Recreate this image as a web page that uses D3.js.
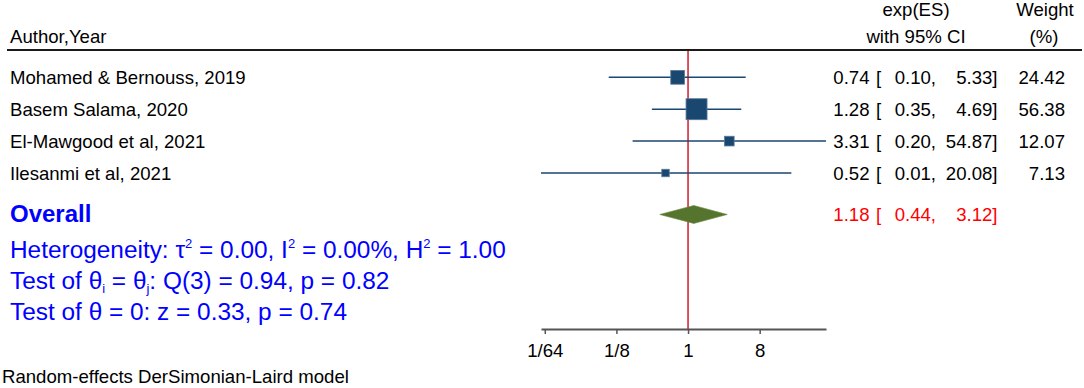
<!DOCTYPE html>
<html>
<head>
<meta charset="utf-8">
<script src="https://cdn.jsdelivr.net/npm/d3@7"></script>
<style>
  html, body { margin: 0; padding: 0; background: #fff; }
  svg { display: block; }
  text { font-family: "Liberation Sans", Arial, sans-serif; }
</style>
</head>
<body>
<svg id="chart" width="1084" height="388"></svg>
<script>
// ---- data ----
const studies = ["Mohamed & Bernouss, 2019", "Basem Salama, 2020", "El-Mawgood et al, 2021", "Ilesanmi et al, 2021"];
const esValues = [0.74, 1.28, 3.31, 0.52];
const ciLower = [0.10, 0.35, 0.20, 0.014];
const ciUpper = [5.33, 4.69, 54.87, 20.08];
const weights = [24.42, 56.38, 12.07, 7.13];
const overallES = [1.18];
const overallLower = [0.44];
const overallUpper = [3.12];
const tickValues = [1/64, 1/8, 1, 8];
const tickLabels = ["1/64", "1/8", "1", "8"];

// ---- drawing ----
const svg = d3.select("#chart");
const navy = "#1a476f";
const fmt = d3.format(".2f");
const fs = 18.6;
const fsBig = 24.4;

const x = d3.scaleLog().base(2)
  .domain([d3.min(ciLower), d3.max(ciUpper)])
  .range([541, 826]);
const y = d3.scaleLinear().domain([0, 1]).range([77.3, 109.2]);
const size = d3.scaleSqrt().domain([0, d3.max(weights)]).range([0, 21]);
const overallRow = 4.3;
const axisY = 329;

// header
svg.append("text").attr("x", 10).attr("y", 43).attr("font-size", fs).text("Author,Year");
svg.append("text").attr("x", 916).attr("y", 16).attr("font-size", fs).attr("text-anchor", "middle").text("exp(ES)");
svg.append("text").attr("x", 916).attr("y", 43).attr("font-size", fs).attr("text-anchor", "middle").text("with 95% CI");
svg.append("text").attr("x", 1045).attr("y", 16).attr("font-size", fs).attr("text-anchor", "middle").text("Weight");
svg.append("text").attr("x", 1044).attr("y", 43).attr("font-size", fs).attr("text-anchor", "middle").text("(%)");
svg.append("line").attr("x1", 7).attr("x2", 1082).attr("y1", 50).attr("y2", 50)
  .attr("stroke", "#1a1a1a").attr("stroke-width", 2);

// reference line at 1
svg.append("line").attr("x1", x(1)).attr("x2", x(1)).attr("y1", 51).attr("y2", axisY)
  .attr("stroke", "#d42a3c").attr("stroke-width", 1.6);

// study rows
const rows = studies.map((s, i) => ({ s, es: esValues[i], lo: ciLower[i], hi: ciUpper[i], w: weights[i], i }));
const g = svg.append("g");
g.selectAll("line.ci").data(rows).join("line")
  .attr("class", "ci")
  .attr("x1", d => x(d.lo)).attr("x2", d => x(d.hi))
  .attr("y1", d => y(d.i)).attr("y2", d => y(d.i))
  .attr("stroke", navy).attr("stroke-width", 1.5);
g.selectAll("rect.box").data(rows).join("rect")
  .attr("class", "box")
  .attr("x", d => x(d.es) - size(d.w) / 2)
  .attr("y", d => y(d.i) - size(d.w) / 2)
  .attr("width", d => size(d.w)).attr("height", d => size(d.w))
  .attr("fill", navy).attr("stroke", "#5b7a99").attr("stroke-width", 0.8);

// labels
g.selectAll("text.lab").data(rows).join("text")
  .attr("class", "lab").attr("x", 10).attr("y", d => y(d.i) + 7)
  .attr("font-size", fs).text(d => d.s);
g.selectAll("text.es").data(rows).join("text")
  .attr("x", 869.5).attr("y", d => y(d.i) + 7).attr("text-anchor", "end")
  .attr("font-size", fs).text(d => fmt(d.es));
g.selectAll("text.br").data(rows).join("text")
  .attr("x", 876).attr("y", d => y(d.i) + 7)
  .attr("font-size", fs).text("[");
g.selectAll("text.lo").data(rows).join("text")
  .attr("x", 936).attr("y", d => y(d.i) + 7).attr("text-anchor", "end")
  .attr("font-size", fs).text(d => fmt(d.lo) + ",");
g.selectAll("text.hi").data(rows).join("text")
  .attr("x", 997.5).attr("y", d => y(d.i) + 7).attr("text-anchor", "end")
  .attr("font-size", fs).text(d => fmt(d.hi) + "]");
g.selectAll("text.wt").data(rows).join("text")
  .attr("x", 1065).attr("y", d => y(d.i) + 7).attr("text-anchor", "end")
  .attr("font-size", fs).text(d => fmt(d.w));

// overall
const yo = y(overallRow);
const ov = overallES.map((e, k) => ({ es: e, lo: overallLower[k], hi: overallUpper[k] }));
svg.selectAll("path.dia").data(ov).join("path")
  .attr("d", d => `M${x(d.lo)},${yo} L${x(d.es)},${yo - 9} L${x(d.hi)},${yo} L${x(d.es)},${yo + 9} Z`)
  .attr("fill", "#55752f").attr("stroke", "#6b8a45").attr("stroke-width", 0.6);
const red = "#ff0000";
ov.forEach(d => {
  svg.append("text").attr("x", 869.5).attr("y", yo + 7).attr("text-anchor", "end").attr("font-size", fs).attr("fill", red).text(fmt(d.es));
  svg.append("text").attr("x", 876).attr("y", yo + 7).attr("font-size", fs).attr("fill", red).text("[");
  svg.append("text").attr("x", 936).attr("y", yo + 7).attr("text-anchor", "end").attr("font-size", fs).attr("fill", red).text(fmt(d.lo) + ",");
  svg.append("text").attr("x", 997.5).attr("y", yo + 7).attr("text-anchor", "end").attr("font-size", fs).attr("fill", red).text(fmt(d.hi) + "]");
});

const blue = "#0000ff";
svg.append("text").attr("x", 10).attr("y", yo + 8).attr("font-size", 24).attr("font-weight", "bold")
  .attr("fill", blue).text("Overall");

// heterogeneity lines
const h1 = svg.append("text").attr("x", 10).attr("y", 258).attr("font-size", fsBig).attr("fill", blue);
h1.append("tspan").text("Heterogeneity: τ");
h1.append("tspan").attr("font-size", 13).attr("dy", -10).text("2");
h1.append("tspan").attr("dy", 10).text(" = 0.00, I");
h1.append("tspan").attr("font-size", 13).attr("dy", -10).text("2");
h1.append("tspan").attr("dy", 10).text(" = 0.00%, H");
h1.append("tspan").attr("font-size", 13).attr("dy", -10).text("2");
h1.append("tspan").attr("dy", 10).text(" = 1.00");

const h2 = svg.append("text").attr("x", 10).attr("y", 289).attr("font-size", fsBig).attr("fill", blue);
h2.append("tspan").text("Test of θ");
h2.append("tspan").attr("font-size", 13).attr("dy", 4).text("i");
h2.append("tspan").attr("dy", -4).text(" = θ");
h2.append("tspan").attr("font-size", 13).attr("dy", 4).text("j");
h2.append("tspan").attr("dy", -4).text(": Q(3) = 0.94, p = 0.82");

svg.append("text").attr("x", 10).attr("y", 320).attr("font-size", fsBig).attr("fill", blue)
  .text("Test of θ = 0: z = 0.33, p = 0.74");

// axis
const axis = d3.axisBottom(x).tickValues(tickValues)
  .tickFormat((d, i) => tickLabels[i]).tickSize(5).tickSizeOuter(0).tickPadding(10);
const ax = svg.append("g").attr("transform", `translate(0,${axisY})`).call(axis);
ax.select(".domain").attr("stroke", "#555").attr("stroke-width", 2);
ax.selectAll(".tick line").attr("stroke", "#555").attr("stroke-width", 1.5);
ax.selectAll(".tick text").attr("font-size", fs).attr("fill", "#000")
  .attr("font-family", "'Liberation Sans', Arial, sans-serif");

// note
svg.append("text").attr("x", 2).attr("y", 383).attr("font-size", fs).text("Random-effects DerSimonian-Laird model");
</script>
</body>
</html>
